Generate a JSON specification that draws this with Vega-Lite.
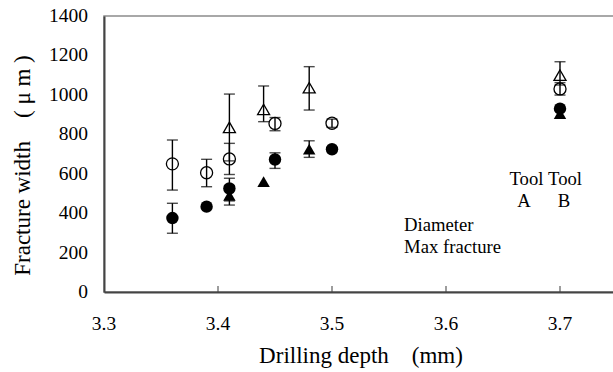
{
  "$schema": "https://vega.github.io/schema/vega-lite/v6.json",
  "width": 513,
  "height": 276,
  "autosize": "none",
  "padding": {"left": 104, "top": 16, "right": 0, "bottom": 80},
  "background": "white",
  "config": {
    "view": {"stroke": "#8c8c8c", "strokeWidth": 1.5},
    "font": "Liberation Serif",
    "axis": {"labels": false, "ticks": false, "grid": false, "titleFont": "Liberation Serif", "titleFontSize": 23, "titleFontWeight": "normal", "titleColor": "black", "domainColor": "#444", "domainWidth": 2},
    "axisY": {"titleX": -82, "titleY": 149, "titleBaseline": "middle", "titleAngle": -90},
    "axisX": {"titleY": 70, "titleBaseline": "alphabetic"}
  },
  "datasets": {
    "pts": [
      {"x": 3.36, "y": 650, "lo": 517, "hi": 771, "kind": "Diameter", "tool": "A"},
      {"x": 3.39, "y": 605, "lo": 534, "hi": 673, "kind": "Diameter", "tool": "A"},
      {"x": 3.41, "y": 675, "lo": 596, "hi": 754, "kind": "Diameter", "tool": "A"},
      {"x": 3.45, "y": 855, "lo": 818, "hi": 885, "kind": "Diameter", "tool": "A"},
      {"x": 3.5, "y": 856, "lo": 835, "hi": 877, "kind": "Diameter", "tool": "A"},
      {"x": 3.7, "y": 1030, "lo": 999, "hi": 1062, "kind": "Diameter", "tool": "A"},
      {"x": 3.36, "y": 375, "lo": 298, "hi": 450, "kind": "Max fracture", "tool": "A"},
      {"x": 3.39, "y": 433, "lo": null, "hi": null, "kind": "Max fracture", "tool": "A"},
      {"x": 3.41, "y": 525, "lo": 462, "hi": 577, "kind": "Max fracture", "tool": "A"},
      {"x": 3.45, "y": 672, "lo": 627, "hi": 706, "kind": "Max fracture", "tool": "A"},
      {"x": 3.5, "y": 724, "lo": null, "hi": null, "kind": "Max fracture", "tool": "A"},
      {"x": 3.7, "y": 930, "lo": null, "hi": null, "kind": "Max fracture", "tool": "A"},
      {"x": 3.41, "y": 835, "lo": 665, "hi": 1004, "kind": "Diameter", "tool": "B"},
      {"x": 3.44, "y": 926, "lo": 864, "hi": 1045, "kind": "Diameter", "tool": "B"},
      {"x": 3.48, "y": 1036, "lo": 923, "hi": 1143, "kind": "Diameter", "tool": "B"},
      {"x": 3.7, "y": 1100, "lo": 1050, "hi": 1168, "kind": "Diameter", "tool": "B"},
      {"x": 3.41, "y": 490, "lo": 441, "hi": 540, "kind": "Max fracture", "tool": "B"},
      {"x": 3.44, "y": 560, "lo": null, "hi": null, "kind": "Max fracture", "tool": "B"},
      {"x": 3.48, "y": 725, "lo": 683, "hi": 767, "kind": "Max fracture", "tool": "B"},
      {"x": 3.7, "y": 905, "lo": null, "hi": null, "kind": "Max fracture", "tool": "B"}
    ],
    "notesLeft": [
      {"x": 3.5632, "y": 309, "label": "Diameter"},
      {"x": 3.5632, "y": 198, "label": "Max fracture"}
    ],
    "notesCenter": [
      {"x": 3.6706, "y": 543, "label": "Tool"},
      {"x": 3.7044, "y": 543, "label": "Tool"},
      {"x": 3.6684, "y": 431, "label": "A"},
      {"x": 3.7035, "y": 431, "label": "B"}
    ],
    "xticks": [{"v": 3.3}, {"v": 3.4}, {"v": 3.5}, {"v": 3.6}, {"v": 3.7}],
    "yticks": [{"v": 0}, {"v": 200}, {"v": 400}, {"v": 600}, {"v": 800}, {"v": 1000}, {"v": 1200}, {"v": 1400}]
  },
  "layer": [
    {
      "data": {"name": "pts"},
      "transform": [{"filter": "datum.lo != null"}],
      "mark": {"type": "rule", "color": "black", "strokeWidth": 1.4},
      "encoding": {
        "x": {"field": "x", "type": "quantitative", "title": "Drilling depth　(mm)", "scale": {"domain": [3.3, 3.75], "nice": false, "zero": false}},
        "y": {"field": "lo", "type": "quantitative", "title": "Fracture width　( μ m )", "scale": {"domain": [0, 1400], "nice": false}},
        "y2": {"field": "hi"}
      }
    },
    {
      "data": {"name": "pts"},
      "transform": [{"filter": "datum.lo != null"}],
      "mark": {"type": "tick", "orient": "horizontal", "color": "black", "size": 11, "thickness": 1.4},
      "encoding": {
        "x": {"field": "x", "type": "quantitative", "title": "Drilling depth　(mm)", "scale": {"domain": [3.3, 3.75], "nice": false, "zero": false}},
        "y": {"field": "lo", "type": "quantitative", "title": "Fracture width　( μ m )", "scale": {"domain": [0, 1400], "nice": false}}
      }
    },
    {
      "data": {"name": "pts"},
      "transform": [{"filter": "datum.hi != null"}],
      "mark": {"type": "tick", "orient": "horizontal", "color": "black", "size": 11, "thickness": 1.4},
      "encoding": {
        "x": {"field": "x", "type": "quantitative", "title": "Drilling depth　(mm)", "scale": {"domain": [3.3, 3.75], "nice": false, "zero": false}},
        "y": {"field": "hi", "type": "quantitative", "title": "Fracture width　( μ m )", "scale": {"domain": [0, 1400], "nice": false}}
      }
    },
    {
      "data": {"name": "pts"},
      "transform": [{"filter": "datum.kind == 'Diameter'"}],
      "mark": {"type": "point", "filled": false, "color": "black", "strokeWidth": 1.3, "size": 145, "opacity": 1},
      "encoding": {
        "x": {"field": "x", "type": "quantitative", "title": "Drilling depth　(mm)", "scale": {"domain": [3.3, 3.75], "nice": false, "zero": false}},
        "y": {"field": "y", "type": "quantitative", "title": "Fracture width　( μ m )", "scale": {"domain": [0, 1400], "nice": false}},
        "shape": {"field": "tool", "type": "nominal", "scale": {"domain": ["A", "B"], "range": ["circle", "triangle-up"]}, "legend": null}
      }
    },
    {
      "data": {"name": "pts"},
      "transform": [{"filter": "datum.kind == 'Max fracture'"}],
      "mark": {"type": "point", "filled": true, "color": "black", "size": 155, "opacity": 1},
      "encoding": {
        "x": {"field": "x", "type": "quantitative", "title": "Drilling depth　(mm)", "scale": {"domain": [3.3, 3.75], "nice": false, "zero": false}},
        "y": {"field": "y", "type": "quantitative", "title": "Fracture width　( μ m )", "scale": {"domain": [0, 1400], "nice": false}},
        "shape": {"field": "tool", "type": "nominal", "scale": {"domain": ["A", "B"], "range": ["circle", "triangle-up"]}, "legend": null}
      }
    },
    {
      "data": {"name": "notesLeft"},
      "mark": {"type": "text", "align": "left", "baseline": "alphabetic", "font": "Liberation Serif", "fontSize": 18.7, "color": "black"},
      "encoding": {
        "x": {"field": "x", "type": "quantitative", "title": "Drilling depth　(mm)", "scale": {"domain": [3.3, 3.75], "nice": false, "zero": false}},
        "y": {"field": "y", "type": "quantitative", "title": "Fracture width　( μ m )", "scale": {"domain": [0, 1400], "nice": false}},
        "text": {"field": "label"}
      }
    },
    {
      "data": {"name": "notesCenter"},
      "mark": {"type": "text", "align": "center", "baseline": "alphabetic", "font": "Liberation Serif", "fontSize": 18.7, "color": "black"},
      "encoding": {
        "x": {"field": "x", "type": "quantitative", "title": "Drilling depth　(mm)", "scale": {"domain": [3.3, 3.75], "nice": false, "zero": false}},
        "y": {"field": "y", "type": "quantitative", "title": "Fracture width　( μ m )", "scale": {"domain": [0, 1400], "nice": false}},
        "text": {"field": "label"}
      }
    },
    {
      "data": {"name": "xticks"},
      "transform": [{"filter": "datum.v > 3.35"}],
      "mark": {"type": "tick", "orient": "vertical", "color": "#444", "size": 6, "thickness": 1.5, "yOffset": -3},
      "encoding": {
        "x": {"field": "v", "type": "quantitative", "title": "Drilling depth　(mm)", "scale": {"domain": [3.3, 3.75], "nice": false, "zero": false}},
        "y": {"datum": 0, "type": "quantitative", "title": "Fracture width　( μ m )", "scale": {"domain": [0, 1400], "nice": false}}
      }
    },
    {
      "data": {"name": "xticks"},
      "mark": {"type": "text", "align": "center", "baseline": "alphabetic", "dy": 38, "font": "Liberation Serif", "fontSize": 19.5, "color": "black"},
      "encoding": {
        "x": {"field": "v", "type": "quantitative", "title": "Drilling depth　(mm)", "scale": {"domain": [3.3, 3.75], "nice": false, "zero": false}},
        "y": {"datum": 0, "type": "quantitative", "title": "Fracture width　( μ m )", "scale": {"domain": [0, 1400], "nice": false}},
        "text": {"field": "v", "type": "quantitative", "format": ".1f"}
      }
    },
    {
      "data": {"name": "yticks"},
      "mark": {"type": "text", "align": "right", "baseline": "middle", "dx": -16, "font": "Liberation Serif", "fontSize": 19.5, "color": "black"},
      "encoding": {
        "x": {"datum": 3.3, "type": "quantitative", "title": "Drilling depth　(mm)", "scale": {"domain": [3.3, 3.75], "nice": false, "zero": false}},
        "y": {"field": "v", "type": "quantitative", "title": "Fracture width　( μ m )", "scale": {"domain": [0, 1400], "nice": false}},
        "text": {"field": "v", "type": "quantitative", "format": "d"}
      }
    }
  ]
}
